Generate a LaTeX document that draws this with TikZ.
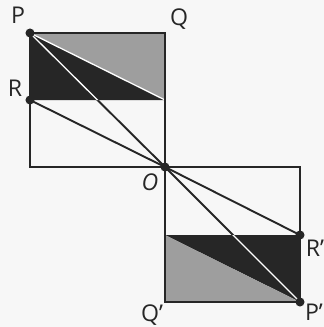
\documentclass[tikz,border=0pt]{standalone}
\usepackage{fontspec}
\setmainfont{Open Sans}
\tikzset{
    edge/.style={line width=1.9pt, draw=black!85},
    dot/.style={circle, fill=black!85, inner sep=0pt, minimum size=9pt},
    lbl/.style={inner sep=0pt, font=\fontsize{23}{26}\selectfont, text=black!85},
    shadefill/.style={fill=black!38},
    darkfill/.style={fill=black!85}
}

\begin{document}
\begin{tikzpicture}[x=0.035cm, y=-0.035cm]
    \fill[black!3] (0,0) rectangle (324,327);
    \useasboundingbox (0,0) rectangle (324,327);

    % Top square
    \coordinate (P) at (30,33);
    \coordinate (Q) at (165,33);
    \coordinate (Qm) at (165,100);
    \coordinate (R) at (30,100);
    \coordinate (Lb) at (30,167);
    \coordinate (O) at (165,167);
    \fill[shadefill] (P) -- (Q) -- (Qm) -- cycle;
    \fill[darkfill] (P) -- (Qm) -- (R) -- cycle;
    \draw[white, line width=1.3pt] (P) -- (Qm);
    \draw[edge] (P) -- (Q) -- (O) -- (Lb) -- cycle;
    \draw[edge] (R) -- (O);
    \draw[edge] (P) -- (O);
    \begin{scope}
        \clip (P) -- (Qm) -- (R) -- cycle;
        \draw[white, line width=1.3pt] (P) -- (O);
    \end{scope}

    % Bottom square
    \coordinate (Tr) at (300,167);
    \coordinate (Rp) at (300,235);
    \coordinate (Pp) at (300,302);
    \coordinate (Qp) at (165,302);
    \coordinate (Lm) at (165,235);
    \fill[darkfill] (Lm) -- (Rp) -- (Pp) -- cycle;
    \fill[shadefill] (Lm) -- (Pp) -- (Qp) -- cycle;
    \draw[edge] (O) -- (Tr) -- (Pp) -- (Qp) -- cycle;
    \draw[edge] (O) -- (Rp);
    \draw[edge] (O) -- (Pp);
    \begin{scope}
        \clip (Lm) -- (Rp) -- (Pp) -- cycle;
        \draw[white, line width=1.3pt] (O) -- (Pp);
    \end{scope}

    % Points
    \foreach \pt in {P, R, O, Rp, Pp}
        \node[dot] at (\pt) {};

    % Labels
    \node[lbl] (labP) at (18,15) {P};
    \node[lbl] (labQ) at (179,19) {Q};
    \node[lbl] (labR) at (15,88) {R};
    \node[lbl, font=\fontsize{23}{26}\selectfont\itshape] (labO) at (150,182) {O};
    \node[lbl] (labRp) at (315,248) {R’};
    \node[lbl] (labPp) at (314,312) {P’};
    \node[lbl] (labQp) at (152,315) {Q’};
\end{tikzpicture}
\end{document}
